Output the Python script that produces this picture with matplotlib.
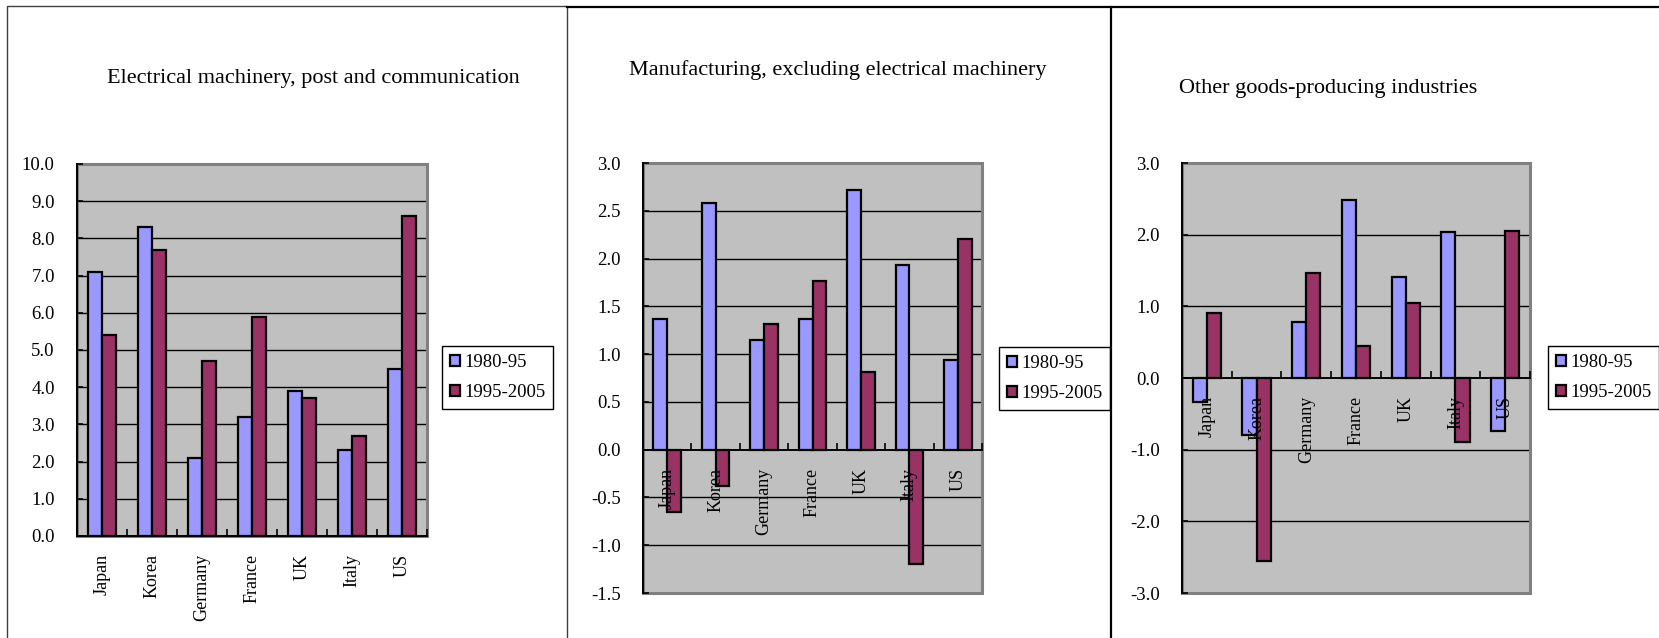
import numpy as np
import matplotlib
matplotlib.use("Agg")
import matplotlib.pyplot as plt
from matplotlib.patches import Rectangle
from matplotlib.lines import Line2D

plt.rcParams['font.family'] = ['Liberation Serif', 'DejaVu Serif']

# data
countries = ['Japan', 'Korea', 'Germany', 'France', 'UK', 'Italy', 'US']
series = ['1980-95', '1995-2005']
titles = ['Electrical machinery, post and communication',
          'Manufacturing, excluding electrical machinery',
          'Other goods-producing industries']

elec_80_95 = [7.1, 8.3, 2.1, 3.2, 3.9, 2.3, 4.5]
elec_95_05 = [5.4, 7.7, 4.7, 5.9, 3.7, 2.7, 8.6]
manu_80_95 = [1.37, 2.58, 1.15, 1.37, 2.72, 1.93, 0.94]
manu_95_05 = [-0.65, -0.38, 1.31, 1.76, 0.81, -1.20, 2.20]
other_80_95 = [-0.33, -0.79, 0.78, 2.49, 1.41, 2.04, -0.74]
other_95_05 = [0.91, -2.55, 1.47, 0.44, 1.05, -0.89, 2.05]

elec_ticks = [0.0, 1.0, 2.0, 3.0, 4.0, 5.0, 6.0, 7.0, 8.0, 9.0, 10.0]
manu_ticks = [-1.5, -1.0, -0.5, 0.0, 0.5, 1.0, 1.5, 2.0, 2.5, 3.0]
other_ticks = [-3.0, -2.0, -1.0, 0.0, 1.0, 2.0, 3.0]

BLUE = '#9999FF'
MAROON = '#993366'
PLOT_BG = '#C0C0C0'
FRAME = '#808080'

W, H = 1659, 638
fig = plt.figure(figsize=(W / 100, H / 100), dpi=100)


def px_rect(left, top, right, bottom):
    """Pixelkoordinaten (von oben) -> Figure-Bruchteile."""
    return [left / W, 1 - bottom / H, (right - left) / W, (bottom - top) / H]


def fig_line(xs, ys, color, lw):
    fig.add_artist(Line2D([x / W for x in xs], [1 - y / H for y in ys],
                          color=color, linewidth=lw, transform=fig.transFigure))


def draw_panel(rect, v1, v2, yticks, title, title_xy, legend_xy):
    ax = fig.add_axes(px_rect(*rect))
    x = np.arange(len(countries))
    w = 1 / 3.5
    ax.bar(x - w / 2, v1, w, color=BLUE, edgecolor='black', linewidth=1.6,
           label=series[0], zorder=2)
    ax.bar(x + w / 2, v2, w, color=MAROON, edgecolor='black', linewidth=1.6,
           label=series[1], zorder=2)
    ax.set_xlim(-0.5, len(countries) - 0.5)
    ax.set_ylim(yticks[0], yticks[-1])
    ax.set_facecolor(PLOT_BG)
    ax.set_axisbelow(False)

    # Gitterlinien hinter den Balken
    for t in yticks[1:-1]:
        if t != 0:
            ax.axhline(t, color='black', linewidth=1.0, zorder=1)

    # grauer Rahmen der Plotfläche
    ax.add_patch(Rectangle((0, 0), 1, 1, transform=ax.transAxes, fill=False,
                           edgecolor=FRAME, linewidth=2.2, zorder=1.2, clip_on=False))
    ax.spines['top'].set_visible(False)
    ax.spines['right'].set_visible(False)
    ax.spines['left'].set_color('black')
    ax.spines['left'].set_linewidth(1.4)
    ax.spines['bottom'].set_position(('data', 0))
    ax.spines['bottom'].set_color('black')
    ax.spines['bottom'].set_linewidth(1.4)

    ax.set_yticks(yticks)
    ax.set_yticklabels([f'{t:.1f}' for t in yticks])
    ax.tick_params(axis='y', direction='in', length=4, width=1.2, pad=16, labelsize=13.5)
    ax.set_xticks(x)
    ax.set_xticklabels(countries, rotation=90)
    ax.tick_params(axis='x', which='major', length=0, pad=13, labelsize=13)
    ax.set_xticks(np.arange(len(countries) + 1) - 0.5, minor=True)
    ax.tick_params(axis='x', which='minor', direction='in', length=5, width=1.2)

    fig.text(title_xy[0] / W, 1 - title_xy[1] / H, title, ha='center', va='center',
             fontsize=16)

    leg = ax.legend(loc='upper left',
                    bbox_to_anchor=(legend_xy[0] / W, 1 - legend_xy[1] / H),
                    bbox_transform=fig.transFigure, borderaxespad=0,
                    fancybox=False, edgecolor='black', framealpha=1, fontsize=13.5,
                    handlelength=0.55, handleheight=0.55, handletextpad=0.2,
                    labelspacing=0.7, borderpad=0.42)
    leg.get_frame().set_linewidth(1.0)
    return ax


draw_panel((77, 164, 427, 536), elec_80_95, elec_95_05, elec_ticks,
           titles[0], (313, 79), (442, 346))
draw_panel((643, 163, 982, 593), manu_80_95, manu_95_05, manu_ticks,
           titles[1], (838, 70), (999, 347))
draw_panel((1182, 163, 1530, 593), other_80_95, other_95_05, other_ticks,
           titles[2], (1328, 88), (1548, 346))

# Rahmen der drei Diagrammfelder
fig_line([7, 7, 567, 567], [H, 6, 6, H], '#404040', 1.0)
fig_line([567, W], [7, 7], 'black', 1.6)
fig_line([1111, 1111], [7, H], 'black', 1.6)

fig.savefig('out.png', dpi=100)
